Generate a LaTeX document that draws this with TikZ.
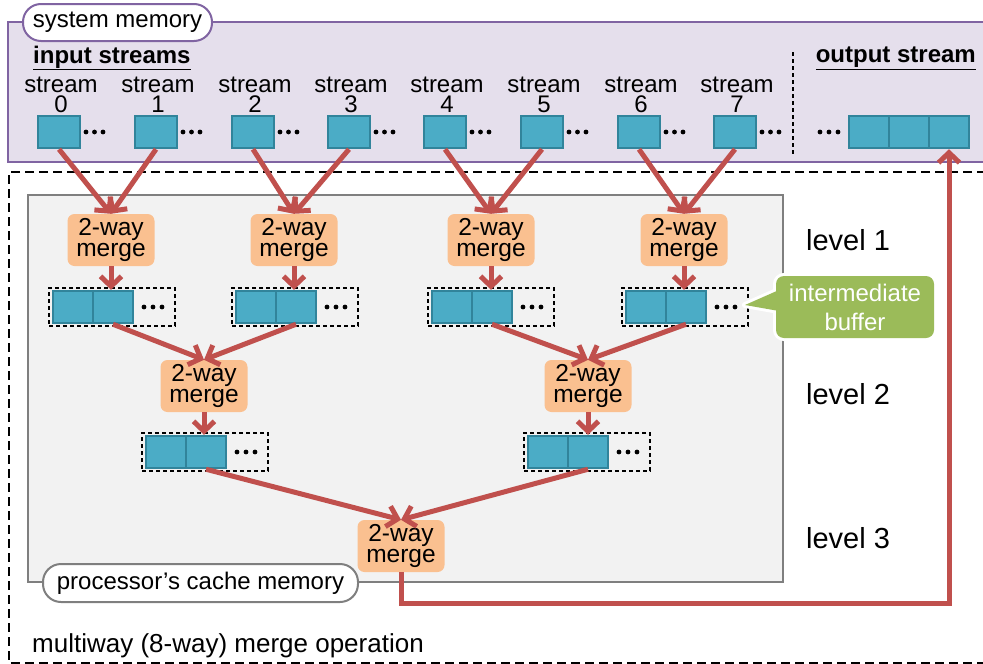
\documentclass[tikz,border=0pt]{standalone}
\usepackage{fontspec}
\setmainfont{Liberation Sans}
\usetikzlibrary{arrows.meta,calc}
\definecolor{purfill}{HTML}{E5DFEC}
\definecolor{purline}{HTML}{8064A2}
\definecolor{tealfill}{HTML}{4BACC6}
\definecolor{tealline}{HTML}{31849B}
\definecolor{mergefill}{HTML}{FAC090}
\definecolor{arrred}{HTML}{C0504D}
\definecolor{calloutgreen}{HTML}{9BBB59}
\definecolor{cachefill}{HTML}{F2F2F2}
\definecolor{cacheline}{HTML}{7F7F7F}
\begin{document}
\begin{tikzpicture}[x=1pt,y=-1pt,
  txt/.style={font=\fontsize{24}{20}\selectfont, inner sep=0pt, align=center},
  cell/.style={draw=tealline, fill=tealfill, line width=2.5pt, minimum width=40pt, minimum height=32pt, inner sep=0pt},
  scell/.style={cell, minimum width=42pt},
  mergebox/.style={fill=mergefill, rounded corners=7pt, minimum width=87pt, minimum height=52pt, inner sep=0pt, align=center, font=\fontsize{24.5}{21}\selectfont},
  flow/.style={draw=arrred, line width=5pt, -{Straight Barb[length=10pt,width=21pt]}},
  bufbox/.style={draw=black, line width=1.3pt, dash pattern=on 4pt off 3pt, minimum width=126pt, minimum height=38pt, inner sep=0pt},
  pillbox/.style={fill=white, line width=2pt, rounded corners=18pt, inner sep=0pt, font=\fontsize{24}{26}\selectfont},
  levellabel/.style={inner sep=0pt, font=\fontsize{29}{30}\selectfont},
]
\useasboundingbox (0,0) rectangle (983,664);

% system memory region
\draw[purline, fill=purfill, line width=2pt] (8,22) rectangle (1000,162);
\node[pillbox, draw=purline, minimum width=189pt, minimum height=37pt] (sysmem) at (117.5,22.5) {system memory};

% outer dashed region
\draw[black, line width=2.5pt, dash pattern=on 9pt off 5pt] (1000,172) -- (9,172) -- (9,663) -- (1000,663);

% cache region
\draw[cacheline, fill=cachefill, line width=2pt] (28,195) rectangle (783,582);
\node[pillbox, draw=cacheline, minimum width=315pt, minimum height=38pt] (cache) at (200.5,583) {processor’s cache memory};

% headings
\node[inner sep=0pt, anchor=west, font=\fontsize{24}{26}\selectfont\bfseries] (instr) at (33,58) {\underline{input streams}};
\node[inner sep=0pt, anchor=east, font=\fontsize{24}{26}\selectfont\bfseries] (outstr) at (976,58) {\underline{output stream}};
\draw[black, line width=1.3pt, dash pattern=on 4pt off 3pt] (793,52) -- (793,155);

% input streams
\foreach \i/\x in {0/59,1/156,2/253,3/349,4/445,5/542,6/639,7/735} {
  \node[scell] (s\i) at (\x,132) {};
  \node[txt, anchor=base] (sl\i) at (\x+2,92) {stream};
  \node[txt, anchor=base] (sn\i) at (\x+2,112) {\i};
  \foreach \d in {6,14.5,23} \fill (\x+21+\d,132) circle (2.4pt);
}

% output stream
\node[cell] (o1) at (869,132) {};
\node[cell] (o2) at (909,132) {};
\node[cell] (o3) at (949,132) {};
\foreach \d in {820,829,838} \fill (\d,132) circle (2.4pt);

% merges
\node[mergebox] (m11) at (111,240) {2-way\\merge};
\node[mergebox] (m12) at (294,240) {2-way\\merge};
\node[mergebox] (m13) at (491,240) {2-way\\merge};
\node[mergebox] (m14) at (684,240) {2-way\\merge};
\node[mergebox] (m21) at (204,386) {2-way\\merge};
\node[mergebox] (m22) at (588,386) {2-way\\merge};
\node[mergebox] (m3) at (401,546) {2-way\\merge};

% buffers
\foreach \n/\L/\Y in {b11/53/307, b12/236/307, b13/432/307, b14/626/307, b21/146/452, b22/528/452} {
  \node[bufbox] (\n) at (\L+59,\Y) {};
  \node[cell] (\n-a) at (\L+20,\Y) {};
  \node[cell] (\n-b) at (\L+60,\Y) {};
  \foreach \d in {91,100,109} \fill (\L+\d,\Y) circle (2.4pt);
}

% callout
\coordinate (tip) at (745,305);
\draw[white, line width=6pt, rounded corners=8pt] (776,276) rectangle (934,338);
\draw[white, line width=6pt, line join=round] (779,290) -- (tip) -- (779,311) -- cycle;
\fill[calloutgreen, rounded corners=8pt] (776,276) rectangle (934,338);
\fill[calloutgreen] (779,290) -- (tip) -- (779,311) -- cycle;
\node[inner sep=0pt, align=center, text=white, font=\fontsize{24}{29}\selectfont] (ibuf) at (855,307) {intermediate\\buffer};

% level labels
\node[levellabel] (lv1) at (848,240) {level 1};
\node[levellabel] (lv2) at (848,394) {level 2};
\node[levellabel] (lv3) at (848,538) {level 3};

\node[inner sep=0pt, anchor=base west, font=\fontsize{26}{28}\selectfont] (title) at (32,652) {multiway (8-way) merge operation};

% arrows
\draw[flow] (s0.south) -- (m11.north);
\draw[flow] (s1.south) -- (m11.north);
\draw[flow] (s2.south) -- (m12.north);
\draw[flow] (s3.south) -- (m12.north);
\draw[flow] (s4.south) -- (m13.north);
\draw[flow] (s5.south) -- (m13.north);
\draw[flow] (s6.south) -- (m14.north);
\draw[flow] (s7.south) -- (m14.north);
\foreach \m/\b in {m11/b11, m12/b12, m13/b13, m14/b14, m21/b21, m22/b22}
  \draw[flow] (\m.south) -- (\m.south |- \b-b.north);
\draw[flow] (b11-b.south) -- (m21.north);
\draw[flow] (b12-b.south) -- (m21.north);
\draw[flow] (b13-b.south) -- (m22.north);
\draw[flow] (b14-b.south) -- (m22.north);
\draw[flow] (b21-b.south) -- (m3.north);
\draw[flow] (b22-b.south) -- (m3.north);
\draw[flow] (m3.south) -- ++(0,31) -| (o3.south);
\end{tikzpicture}
\end{document}
